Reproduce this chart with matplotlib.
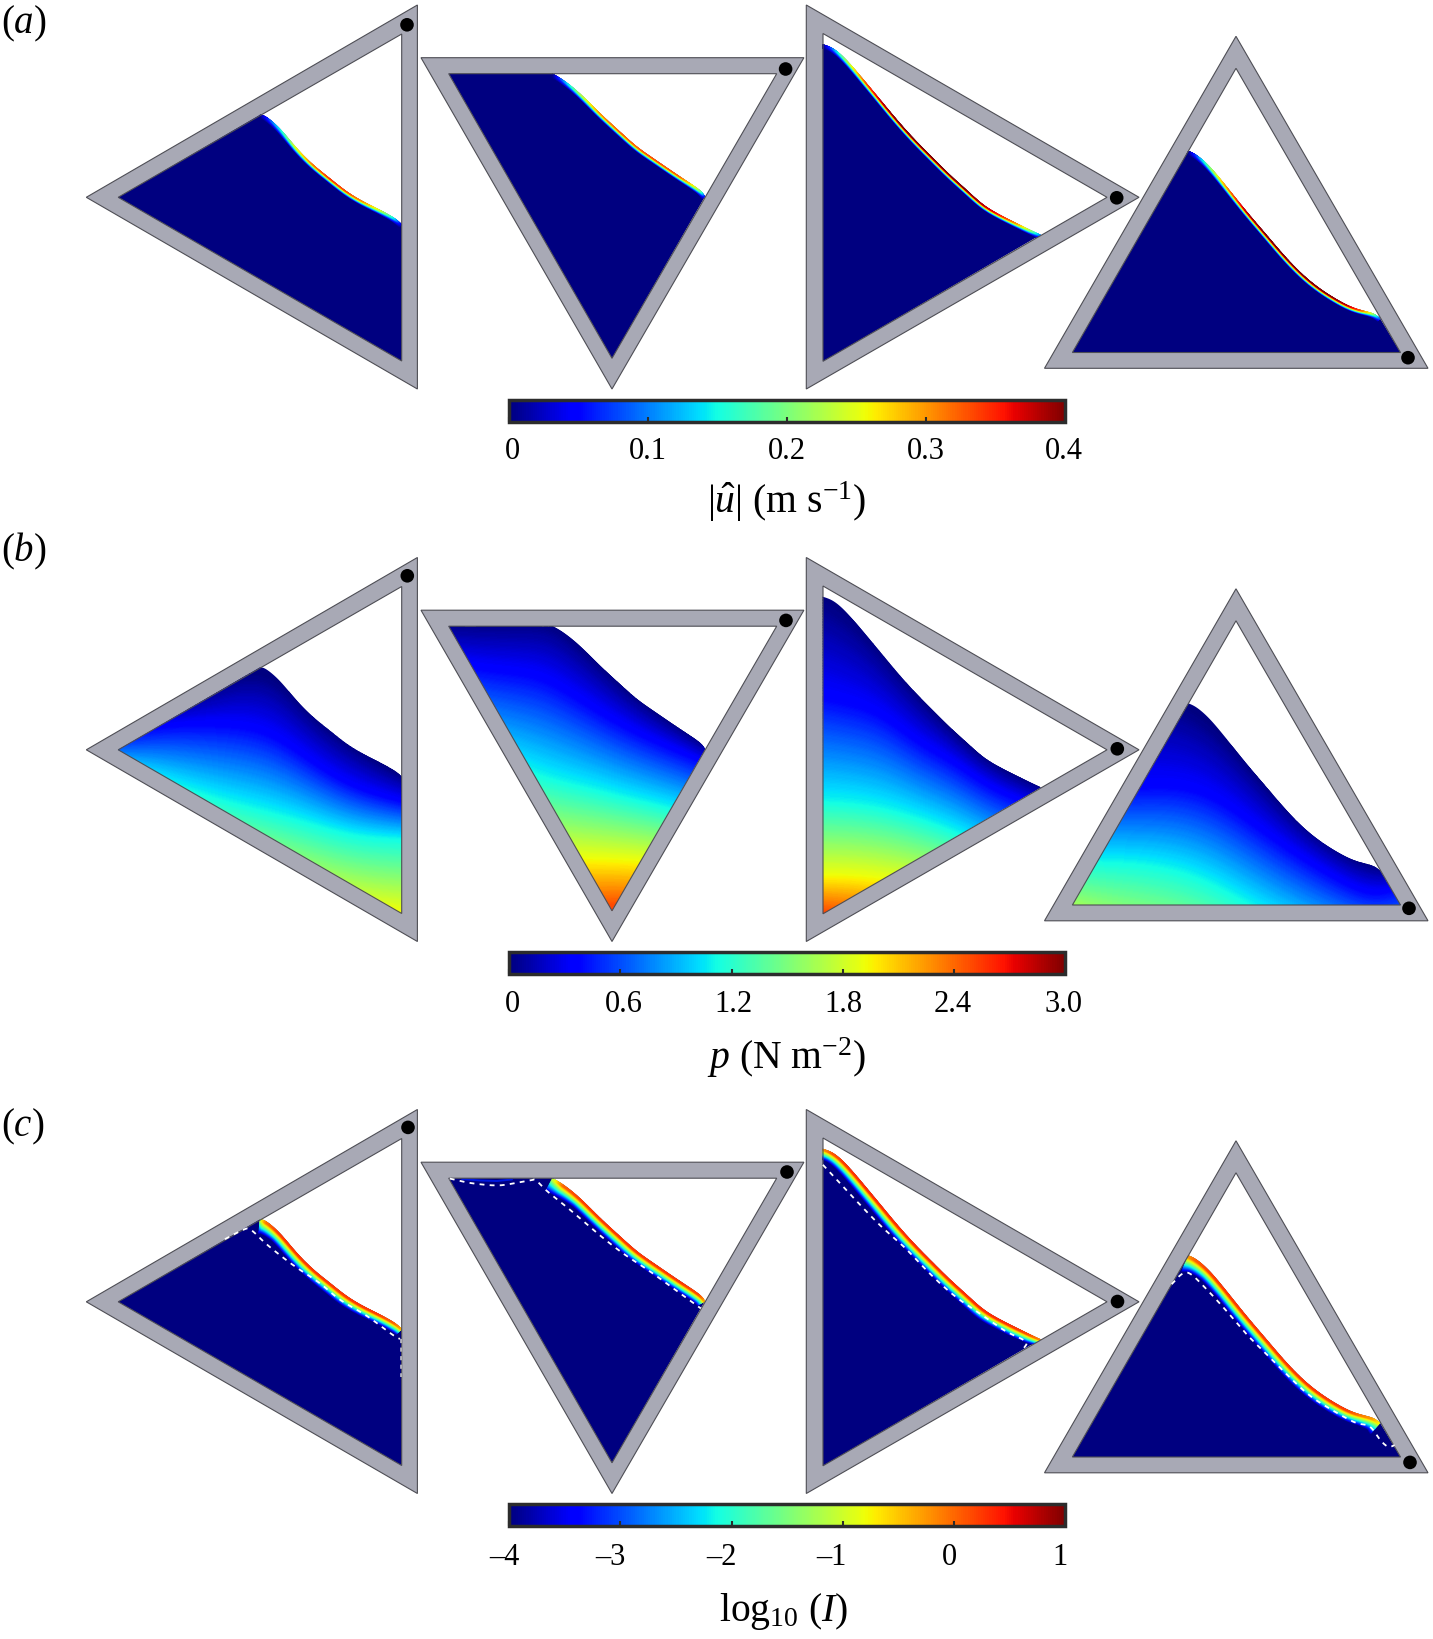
import numpy as np
import matplotlib
matplotlib.use("Agg")
import matplotlib.pyplot as plt
from matplotlib.patches import Polygon, Circle
from matplotlib.collections import LineCollection
from matplotlib.cm import ScalarMappable
from matplotlib.colors import Normalize
from matplotlib.transforms import ScaledTranslation

plt.rcParams['font.family'] = ['Liberation Serif', 'DejaVu Serif']
plt.rcParams['mathtext.fontset'] = 'custom'
plt.rcParams['mathtext.rm'] = 'Liberation Serif'
plt.rcParams['mathtext.it'] = 'Liberation Serif:italic'
plt.rcParams['mathtext.bf'] = 'Liberation Serif:bold'
plt.rcParams['mathtext.fallback'] = 'stix'

W, H = 1433, 1640
GREY = '#a8a9b5'
EDGE = '#4e4e55'
NAVY = plt.get_cmap('jet')(0.0)

# ---- tank outlines, in picture units of the first row ----
outer_1 = [(417.4, 6), (417.4, 390), (86.3, 198.3)]
inner_1 = [(401.7, 35), (401.7, 362), (118.2, 198.3)]
outer_2 = [(421, 58.7), (803.9, 58.7), (612, 390)]
inner_2 = [(448.7, 74.7), (776.7, 74.7), (612, 359.3)]
outer_3 = [(806.3, 6), (806.3, 390), (1139, 198.3)]
inner_3 = [(823, 34.5), (823, 362.3), (1107, 198.3)]
outer_4 = [(1236, 37.3), (1044.5, 369.3), (1428, 369.3)]
inner_4 = [(1236, 69.3), (1072.4, 353.5), (1400.5, 353.5)]

# ---- water corners closing the fluid region ----
closure_1 = [(401.7, 362), (118.2, 198.3)]
closure_2 = [(612, 359.3), (448.7, 74.7)]
closure_3 = [(823, 362.3)]
closure_4 = [(1400.5, 353.5), (1072.4, 353.5)]

# ---- free surfaces ----
surf_x_1 = [260, 266, 280, 296.7, 313.3, 330, 346.7, 363.3, 380, 395, 401.7]
surf_y_1 = [115.8, 117.3, 129.2, 149.2, 165.8, 179.2, 192.5, 202.5, 210.8, 219.2, 225.2]
surf_x_2 = [552.7, 563.3, 580, 600, 620, 636.7, 653.3, 680, 700, 705]
surf_y_2 = [74.7, 80.8, 94.2, 114.2, 132.5, 147.5, 159.2, 177.5, 190.8, 197.5]
surf_x_3 = [822.7, 833.3, 846.7, 866.7, 883.3, 900, 916.7, 933.3, 950, 966.7, 983.3, 1000, 1016.7, 1030, 1040.7]
surf_y_3 = [45.2, 49.2, 60.8, 84.2, 104.2, 124.2, 142.5, 159.2, 175.8, 190.8, 205.8, 215.8, 224.2, 230.8, 235.8]
surf_x_4 = [1188.3, 1196.7, 1210, 1226.7, 1246.7, 1266.7, 1286.7, 1306.7, 1326.7, 1346.7, 1360, 1373.3, 1380]
surf_y_4 = [151.8, 155.8, 167.5, 187.5, 212.5, 235.8, 259.2, 279.2, 294.2, 305.8, 310.8, 314.2, 319.2]

# ---- black dots per row ----
dots_a = [(407, 25.8), (785.6, 70), (1116.7, 198.8), (1408, 358.7)]
dots_b = [(407.3, 576.8), (786, 621.4), (1117.3, 749.8), (1409, 909.3)]
dots_c = [(408, 1128.4), (787, 1173), (1117.5, 1302.5), (1410, 1463.4)]

# ---- speed at the free surface (m/s), one per surface point ----
speed_1 = [0, .05, .14, .25, .31, .34, .33, .30, .24, .14, .03]
speed_2 = [0, .10, .22, .30, .32, .32, .33, .32, .22, .05]
speed_3 = [0, .10, .22, .33, .38, .40, .40, .40, .40, .40, .38, .35, .30, .22, .10]
speed_4 = [0, .08, .20, .30, .38, .40, .40, .40, .40, .38, .33, .22, .08]

# ---- inertial number at the free surface and layer thickness ----
logI_1 = [-1.2, -.1, .25, .25, .25, .25, .25, .25, .2, 0, -.4]
logI_2 = [-1.2, 0, .2, .25, .25, .25, .25, .25, .15, -.4]
logI_3 = [-.3, .1, .25, .3, .3, .3, .3, .3, .3, .3, .3, .3, .25, .1, -.2]
logI_4 = [-.3, .05, .2, .25, .25, .25, .25, .25, .25, .2, -.1, -.3, -.8]
thick_1 = [15, 14, 11, 10.5, 10.5, 10.5, 10.5, 10, 9.5, 9, 8]
thick_2 = [15, 14, 11, 10.5, 10.5, 10.5, 10.5, 10, 9.5, 9]
thick_3 = [10.5, 10.5, 10.5, 10.5, 10.5, 10.5, 10.5, 10.5, 10.5, 10.5, 10.5, 10, 10, 9, 7]
thick_4 = [18, 15, 12, 11, 11, 11, 11, 11, 11, 11, 11, 13, 15]

# ---- pressure isolines ----
p_levels = [0, 0.36, 1.1, 1.92, 2.5]
p_cols_1 = [115, 163.3, 213.3, 260, 296.7, 330, 363.3, 405]
p_iso_1 = [[171.2, 152.5, 135.8, 114.2, 149.2, 179.2, 202.5, 225.2],
           [185.8, 173.2, 172.5, 175.8, 199.2, 222.5, 239.2, 250.8],
           [215.8, 229.2, 245.8, 257.5, 267.5, 277.5, 285.2, 287.5],
           [289.2, 302.5, 319.2, 330.8, 340.8, 349.2, 355.8, 360.8],
           [340, 350, 365, 378, 388, 398, 405, 410]]
p_cols_2 = [445, 486.7, 526.7, 553.3, 586.7, 620, 653.3, 708]
p_iso_2 = [[70.8, 70.8, 70.8, 70.8, 100.8, 132.5, 159.2, 194.2],
           [109.2, 117.5, 120.8, 130.8, 152.5, 172.5, 189.2, 212.5],
           [185.8, 202.5, 217.5, 227.5, 235.2, 244.2, 251.8, 265.8],
           [285.8, 295.8, 304.2, 306.5, 307.5, 308.5, 310.8, 319.2],
           [340, 350, 355, 356, 356, 354, 356, 360]]
p_cols_3 = [820, 850, 883.3, 916.7, 950, 983.3, 1016.7, 1045]
p_iso_3 = [[44.2, 64.2, 102.5, 142.5, 175.8, 205.8, 224.2, 235.2],
           [144.2, 150.8, 162.5, 190.8, 207.5, 232.5, 247.5, 259.2],
           [249.2, 250.8, 255.8, 265.8, 277.5, 292.5, 305.8, 319.2],
           [324.2, 324.2, 327.5, 332.5, 339.2, 349.2, 359.2, 369.2],
           [360.8, 364.2, 369.2, 375.8, 382.5, 392.5, 402.5, 412.5]]
p_cols_4 = [1070, 1123.3, 1188.3, 1240, 1290, 1340, 1373.3, 1403]
p_iso_4 = [[125.8, 142.5, 149.2, 204.2, 262.5, 300.8, 314.2, 319.2],
           [239.2, 237.5, 230.8, 262.5, 299.2, 329.2, 344.2, 334.2],
           [309.2, 309.8, 318.5, 347.5, 372.5, 390.8, 395.8, 399.2],
           [375.8, 399.2, 415.8, 442.5, 462.5, 479.2, 492.5, 499.2],
           [436, 460, 477, 503, 523, 540, 553, 560]]

# ---- dashed yield lines in panel (c), picture units of that row ----
dash_x_1 = [224.9, 243.2, 251, 266.7, 292.9, 319, 340, 366, 392, 400]
dash_y_1 = [1240.2, 1230.8, 1230.8, 1245.4, 1266, 1283.5, 1300.8, 1316.3, 1335.4, 1340]
wall_dash_x = [401, 401]
wall_dash_y = [1340, 1378]
dash_x_2 = [449.8, 470.7, 496.9, 515.2, 530.9, 536.1, 546.5, 570.1, 596.2, 622.4, 648.5, 674.7, 700.8]
dash_y_2 = [1179.6, 1184.1, 1186.5, 1184.1, 1181.3, 1181.3, 1191.7, 1210.8, 1233.3, 1254, 1271.3, 1290.4, 1309.4]
dash_x_3 = [822.9, 834.2, 855, 880, 905, 930, 955, 980, 1005, 1025.8, 1023.8]
dash_y_3 = [1165.8, 1177.9, 1200.4, 1226.3, 1248.8, 1274.8, 1297.3, 1314.6, 1331.9, 1342.3, 1349.2]
dash_x_4 = [1171.7, 1182.1, 1190.4, 1205, 1225.8, 1246.7, 1267.5, 1288.3, 1309, 1330, 1355, 1369.6, 1380, 1388.3, 1394.6]
dash_y_4 = [1285.2, 1274.8, 1274.8, 1288.6, 1311.1, 1335.4, 1356.1, 1376.9, 1396, 1409.8, 1423.6, 1427.1, 1440.9, 1447.9, 1446.1]
arc_x = [462, 480, 497, 512]
arc_y = [1180, 1181.5, 1182, 1180.5]

# ---- colour bars and labels ----
ticks_a = [0, .1, .2, .3, .4]
tick_labels_a = ['0', '0.1', '0.2', '0.3', '0.4']
ticks_b = [0, .6, 1.2, 1.8, 2.4, 3.0]
tick_labels_b = ['0', '0.6', '1.2', '1.8', '2.4', '3.0']
ticks_c = [-4, -3, -2, -1, 0, 1]
tick_labels_c = ['\u20134', '\u20133', '\u20132', '\u20131', '0', '1']
label_a = r'$|\hat{u}|$ (m s$^{-1}$)'
label_b = r'$p$ (N m$^{-2}$)'
label_c = r'log$_{10}$ ($I$)'

OUTERS = [outer_1, outer_2, outer_3, outer_4]
INNERS = [inner_1, inner_2, inner_3, inner_4]
CLOSURES = [closure_1, closure_2, closure_3, closure_4]
SURFS = [(surf_x_1, surf_y_1), (surf_x_2, surf_y_2), (surf_x_3, surf_y_3), (surf_x_4, surf_y_4)]
SPEEDS = [speed_1, speed_2, speed_3, speed_4]
LOGIS = [logI_1, logI_2, logI_3, logI_4]
THICKS = [thick_1, thick_2, thick_3, thick_4]
P_COLS = [p_cols_1, p_cols_2, p_cols_3, p_cols_4]
P_ISOS = [p_iso_1, p_iso_2, p_iso_3, p_iso_4]
DASHES = [(dash_x_1, dash_y_1), (dash_x_2, dash_y_2), (dash_x_3, dash_y_3), (dash_x_4, dash_y_4)]


def soften(a, win):
    """Remove the reading jitter of a drawn curve, keeping both end points."""
    if win < 3:
        return a
    k = np.hanning(win + 2)[1:-1]
    k = k / k.sum()
    h = win // 2
    pad = np.r_[2 * a[0] - a[h:0:-1], a, 2 * a[-1] - a[-2:-h - 2:-1]]
    return np.convolve(pad, k, mode='valid')


def smooth(*cols, n=14, win=25):
    """Catmull-Rom drawing of a read polyline; other columns follow linearly."""
    x, y = np.asarray(cols[0], float), np.asarray(cols[1], float)
    px = np.r_[2 * x[0] - x[1], x, 2 * x[-1] - x[-2]]
    py = np.r_[2 * y[0] - y[1], y, 2 * y[-1] - y[-2]]
    t = np.linspace(0, 1, n, endpoint=False)[:, None]
    def cr(p):
        a, b, c, d = p[:-3, None].T, p[1:-2, None].T, p[2:-1, None].T, p[3:, None].T
        r = 0.5 * (2 * b + (c - a) * t + (2 * a - 5 * b + 4 * c - d) * t**2 + (3 * b - a - 3 * c + d) * t**3)
        return np.r_[r.T.ravel(), p[-2]]
    sx, sy = soften(cr(px), win), soften(cr(py), win)
    u = np.linspace(0, len(x) - 1, len(sx))
    out = [sx, sy]
    for c in cols[2:]:
        out.append(np.interp(u, np.arange(len(x)), c))
    return out


fig = plt.figure(figsize=(W / 100, H / 100), dpi=100)
ax = fig.add_axes([0, 0, 1, 1])
ax.set_xlim(0, W)
ax.set_ylim(H, 0)
ax.axis('off')


def shift(pts, dy):
    return [(x, y + dy) for x, y in pts]


def frame(i, dy):
    ax.add_patch(Polygon(shift(OUTERS[i], dy), closed=True, fc=GREY, ec=EDGE, lw=0.8, zorder=1))
    ax.add_patch(Polygon(shift(INNERS[i], dy), closed=True, fc='white', ec='none', zorder=2))


def water(i, dy):
    sx, sy = smooth(*SURFS[i])[:2]
    pts = list(zip(sx, sy + dy)) + shift(CLOSURES[i], dy)
    return Polygon(pts, closed=True, transform=ax.transData)


def inner_edge(i, dy):
    ax.add_patch(Polygon(shift(INNERS[i], dy), closed=True, fc='none', ec=EDGE, lw=0.8, zorder=6))


def band(i, dy, peak, depth, cmap, norm, floor):
    sx, sy, pk, dp = smooth(SURFS[i][0], SURFS[i][1], peak, depth)
    sy = sy + dy
    tx, ty = np.gradient(sx), np.gradient(sy)
    ln = np.hypot(tx, ty)
    nx, ny = -ty / ln, tx / ln
    segs, vals = [], []
    for f in np.linspace(1, 0, 34):
        d = f * dp
        ox, oy = sx + nx * d, sy + ny * d
        v = floor + (pk - floor) * min(1.0, (1 - f) / 0.88)
        p = np.column_stack([ox, oy])
        segs.append(np.stack([p[:-1], p[1:]], axis=1))
        vals.append(0.5 * (v[:-1] + v[1:]))
    lc = LineCollection(np.concatenate(segs), array=np.concatenate(vals), cmap=cmap, norm=norm,
                        linewidths=0.75, capstyle='round', zorder=4)
    ax.add_collection(lc)
    clip = water(i, dy)
    ax.add_patch(clip)
    clip.set_visible(False)
    lc.set_clip_path(clip)


def colorbar(top, bottom, ticks, labels, vmin, vmax, pad, shifts):
    left, right = 509.0, 1065.4
    cax = fig.add_axes([left / W, 1 - bottom / H, (right - left) / W, (bottom - top) / H])
    cb = fig.colorbar(ScalarMappable(Normalize(vmin, vmax), 'jet'), cax=cax, orientation='horizontal')
    cb.set_ticks(ticks, labels=labels)
    cb.minorticks_off()
    cb.outline.set_linewidth(2.5)
    cb.outline.set_edgecolor('#2c2c2c')
    cax.tick_params(direction='in', length=3.6, width=1.5, color='#2c2c2c', pad=pad, labelsize=22)
    for lab, s in zip(cax.get_xticklabels(), shifts):
        lab.set_transform(lab.get_transform() + ScaledTranslation(s / 100, 0, fig.dpi_scale_trans))
    return cb


offsets = [0, 552.5, 1104.5]
jet = plt.get_cmap('jet').with_extremes(under=NAVY)

for row, dy in enumerate(offsets):
    for i in range(4):
        frame(i, dy)
        if row == 0 or row == 2:
            ax.add_patch(Polygon(water(i, dy).get_xy(), closed=True, fc=NAVY, ec='none', zorder=3))
        if row == 0:
            band(i, dy, SPEEDS[i], [4.0] * len(SPEEDS[i]), 'jet', Normalize(0, .4), 0.0)
        if row == 2:
            band(i, dy, LOGIS[i], THICKS[i], 'jet', Normalize(-4, 1), -4.0)
        if row == 1:
            cols = np.asarray(P_COLS[i], float)
            iso = np.asarray(P_ISOS[i], float) + dy
            drawn = [smooth(cols, line, win=35)[:2] for line in iso]
            xs = drawn[0][0]
            Ys = np.vstack([d[1] for d in drawn])
            Y = np.vstack([Ys[0] - 200, Ys, Ys[-1] + 150])
            X = np.tile(xs, (Y.shape[0], 1))
            Z = np.tile(np.r_[-0.5, p_levels, 3.2][:, None], (1, len(xs)))
            cs = ax.contourf(X, Y, Z, levels=np.linspace(0, 3, 301), cmap=jet, vmin=0, vmax=3,
                             extend='both', antialiased=False, zorder=3)
            clip = water(i, dy)
            ax.add_patch(clip)
            clip.set_visible(False)
            cs.set_clip_path(clip)
        inner_edge(i, dy)

for (x, y) in dots_a + dots_b + dots_c:
    ax.add_patch(Circle((x, y), 6.8, fc='black', ec='none', zorder=8))

for dx, dy_ in DASHES:
    sx, sy = smooth(dx, dy_, win=11)[:2]
    ax.plot(sx, sy, color='white', lw=1.3, ls=(0, (2.7, 2.9)), zorder=7)
ax.plot(wall_dash_x, wall_dash_y, color='#d0d0d0', lw=1.1, ls=(0, (2.7, 2.9)), zorder=7)
ax.plot(arc_x, arc_y, color='#0018e0', lw=1.4, zorder=4, solid_capstyle='round')

ax.text(1, 33, r'($\mathit{a}$)', fontsize=28, va='baseline', ha='left')
ax.text(1, 561.5, r'($\mathit{b}$)', fontsize=28, va='baseline', ha='left')
ax.text(1, 1136, r'($\mathit{c}$)', fontsize=28, va='baseline', ha='left')

colorbar(400.6, 422.5, ticks_a, tick_labels_a, 0, .4, 10.3, [3, 0, 0, 0, -2])
colorbar(952.5, 975.0, ticks_b, tick_labels_b, 0, 3, 11.0, [3, 4, 2, 1, -1, -2])
colorbar(1505.0, 1527.0, ticks_c, tick_labels_c, -4, 1, 11.5, [-5, -10, -10, -11, -5, -5])

ax.text(787, 513, label_a, fontsize=28.5, ha='center', va='baseline')
ax.text(786, 1069.5, label_b, fontsize=28.5, ha='center', va='baseline')
ax.text(784, 1621, label_c, fontsize=28.5, ha='center', va='baseline')

fig.savefig('out.png', dpi=100)
